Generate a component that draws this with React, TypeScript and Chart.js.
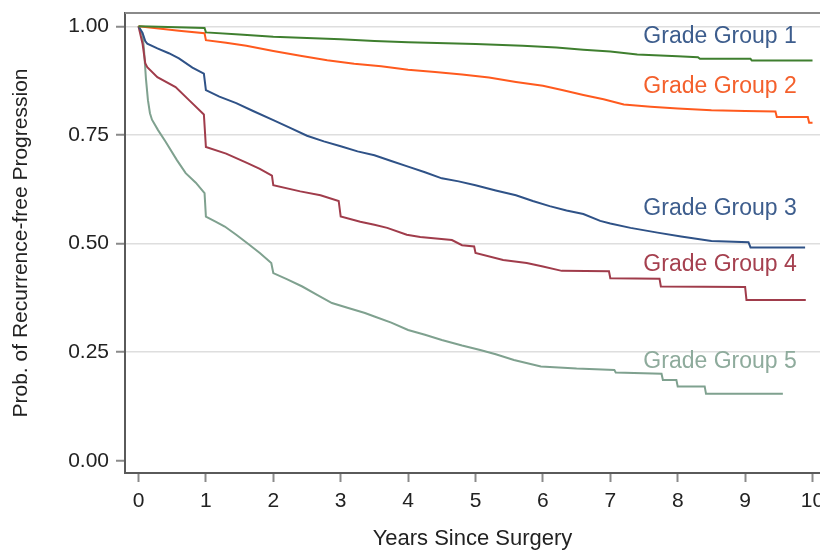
import React, { useEffect, useRef } from "react";
import { Chart, registerables } from "chart.js";

Chart.register(...registerables);

// ---- data (a repeated time marks a vertical drop) ----
const xTickValues = [0, 1, 2, 3, 4, 5, 6, 7, 8, 9, 10];
const yTickValues = [0, 0.25, 0.5, 0.75, 1];

const groupNames = ["Grade Group 1", "Grade Group 2", "Grade Group 3", "Grade Group 4", "Grade Group 5"];

const gg1Time = [0, 0.3, 0.98, 1.0, 1.5, 2.0, 2.5, 3.0, 3.5, 4.0, 5.0, 5.7, 6.2, 6.6, 7.0, 7.4, 8.0, 8.3, 8.33, 9.08, 9.1, 10.0];
const gg1Surv = [1, 0.999, 0.996, 0.986, 0.981, 0.976, 0.973, 0.97, 0.966, 0.963, 0.959, 0.955, 0.951, 0.946, 0.942, 0.935, 0.931, 0.929, 0.925, 0.925, 0.921, 0.921];

const gg2Time = [0, 0.3, 0.6, 0.98, 1.0, 1.3, 1.6, 2.0, 2.4, 2.8, 3.2, 3.6, 4.0, 4.4, 4.8, 5.2, 5.6, 6.0, 6.3, 6.6, 6.9, 7.2, 7.6, 8.0, 8.5, 9.0, 9.45, 9.47, 9.93, 9.95, 10.0];
const gg2Surv = [1, 0.995, 0.99, 0.984, 0.968, 0.962, 0.955, 0.943, 0.932, 0.922, 0.914, 0.908, 0.9, 0.895, 0.889, 0.882, 0.872, 0.863, 0.853, 0.842, 0.832, 0.82, 0.815, 0.811, 0.807, 0.805, 0.804, 0.791, 0.791, 0.778, 0.778];

const gg3Time = [0, 0.06, 0.1, 0.13, 0.28, 0.45, 0.6, 0.8, 0.97, 1.0, 1.2, 1.45, 1.7, 2.0, 2.25, 2.5, 2.75, 3.0, 3.25, 3.5, 3.75, 4.0, 4.25, 4.5, 4.75, 5.0, 5.3, 5.6, 5.85, 6.1, 6.35, 6.6, 6.85, 7.0, 7.3, 7.7, 8.05, 8.5, 9.05, 9.08, 9.89];
const gg3Surv = [1, 0.985, 0.966, 0.96, 0.949, 0.938, 0.926, 0.905, 0.891, 0.853, 0.838, 0.823, 0.805, 0.784, 0.766, 0.748, 0.735, 0.724, 0.712, 0.703, 0.69, 0.677, 0.664, 0.65, 0.643, 0.634, 0.622, 0.611, 0.598, 0.586, 0.576, 0.568, 0.552, 0.546, 0.536, 0.525, 0.516, 0.506, 0.503, 0.491, 0.491];

const gg4Time = [0, 0.06, 0.1, 0.13, 0.28, 0.55, 0.75, 0.97, 1.0, 1.3, 1.6, 1.8, 1.98, 2.0, 2.4, 2.7, 2.97, 3.0, 3.29, 3.5, 3.69, 3.98, 4.18, 4.65, 4.8, 4.98, 5.0, 5.41, 5.76, 6.0, 6.28, 6.98, 7.0, 7.73, 7.75, 9.0, 9.02, 9.9];
const gg4Surv = [1, 0.96, 0.915, 0.906, 0.883, 0.86, 0.83, 0.797, 0.722, 0.707, 0.686, 0.672, 0.656, 0.634, 0.62, 0.611, 0.598, 0.562, 0.55, 0.543, 0.536, 0.52, 0.515, 0.508, 0.496, 0.493, 0.478, 0.462, 0.455, 0.447, 0.437, 0.436, 0.42, 0.419, 0.401, 0.4, 0.37, 0.37];

const gg5Time = [0, 0.06, 0.08, 0.11, 0.14, 0.17, 0.2, 0.29, 0.4, 0.57, 0.7, 0.85, 0.98, 1.0, 1.15, 1.28, 1.45, 1.62, 1.8, 1.97, 2.0, 2.2, 2.43, 2.65, 2.87, 3.1, 3.36, 3.5, 3.75, 4.0, 4.25, 4.5, 4.8, 5.07, 5.3, 5.57, 5.97, 6.5, 7.06, 7.08, 7.76, 7.78, 7.98, 8.0, 8.4, 8.42, 9.56];
const gg5Surv = [1, 0.98, 0.95, 0.88, 0.83, 0.8, 0.785, 0.761, 0.735, 0.692, 0.662, 0.64, 0.616, 0.562, 0.55, 0.539, 0.52, 0.5, 0.478, 0.455, 0.432, 0.418, 0.401, 0.382, 0.363, 0.352, 0.34, 0.332, 0.318, 0.301, 0.29, 0.278, 0.265, 0.255, 0.245, 0.232, 0.217, 0.212, 0.209, 0.203, 0.2, 0.186, 0.186, 0.171, 0.171, 0.154, 0.154];

// label anchors in data units (left edge / baseline)
const labelTime = [7.49, 7.49, 7.49, 7.49, 7.49];
const labelSurv = [0.962, 0.847, 0.566, 0.437, 0.213];

// ---- styles ----
const lineColors = ["#3f7f2f", "#ff5a1e", "#2f5287", "#a03c4b", "#7fa18f"];
const labelColors = ["#3d5d8d", "#f4602c", "#3d5d8d", "#a5404f", "#8eab9c"];
const FONT = "'Liberation Sans', Arial, Helvetica, sans-serif";

const series = [
  [gg1Time, gg1Surv],
  [gg2Time, gg2Surv],
  [gg3Time, gg3Surv],
  [gg4Time, gg4Surv],
  [gg5Time, gg5Surv],
];

const framePlugin = {
  id: "frameTop",
  afterDraw(chart: any) {
    const { ctx, chartArea } = chart;
    ctx.save();
    ctx.strokeStyle = "#8a8a8a";
    ctx.lineWidth = 2;
    ctx.beginPath();
    ctx.moveTo(chartArea.left, chartArea.top);
    ctx.lineTo(chartArea.right, chartArea.top);
    ctx.stroke();
    ctx.restore();
  },
};

const labelPlugin = {
  id: "groupLabels",
  afterDatasetsDraw(chart: any) {
    const { ctx, scales } = chart;
    ctx.save();
    ctx.font = `23px ${FONT}`;
    ctx.textAlign = "left";
    ctx.textBaseline = "alphabetic";
    groupNames.forEach((name, i) => {
      ctx.fillStyle = labelColors[i];
      ctx.fillText(name, scales.x.getPixelForValue(labelTime[i]), scales.y.getPixelForValue(labelSurv[i]));
    });
    ctx.restore();
  },
};

export default function App() {
  const ref = useRef<HTMLCanvasElement | null>(null);

  useEffect(() => {
    if (!ref.current) return;
    const chart = new Chart(ref.current, {
      type: "line",
      data: {
        datasets: series.map(([t, s], i) => ({
          label: groupNames[i],
          data: t.map((x, j) => ({ x, y: s[j] })),
          borderColor: lineColors[i],
          borderWidth: 2,
          pointRadius: 0,
          tension: 0,
          fill: false,
        })),
      },
      options: {
        animation: false,
        responsive: false,
        events: [],
        layout: { padding: { top: 13, left: 0, right: 0, bottom: 0 } },
        plugins: { legend: { display: false }, tooltip: { enabled: false } },
        scales: {
          x: {
            type: "linear",
            min: -0.2003,
            max: 10.111,
            afterBuildTicks: (scale: any) => {
              scale.ticks = xTickValues.map((v) => ({ value: v }));
            },
            afterFit: (scale: any) => {
              scale.height = 79;
              scale.paddingLeft = 0;
              scale.paddingRight = 0;
            },
            grid: {
              drawOnChartArea: false,
              drawTicks: true,
              tickLength: 9,
              tickColor: "#8a8a8a",
              tickWidth: 2,
              color: "transparent",
            },
            border: { display: true, color: "#5a5a5a", width: 2 },
            ticks: {
              autoSkip: false,
              maxRotation: 0,
              padding: 7,
              color: "#222",
              font: { family: FONT, size: 21 },
              callback: (v: any) => String(v),
            },
            title: {
              display: true,
              text: "Years Since Surgery",
              color: "#222",
              font: { family: FONT, size: 22 },
              padding: { top: 0, bottom: 0 },
            },
          },
          y: {
            type: "linear",
            min: -0.0283,
            max: 1.0306,
            afterBuildTicks: (scale: any) => {
              scale.ticks = yTickValues.map((v) => ({ value: v }));
            },
            afterFit: (scale: any) => {
              scale.width = 125;
              scale.paddingTop = 0;
              scale.paddingBottom = 0;
            },
            grid: {
              drawTicks: true,
              tickLength: 9,
              tickColor: "#8a8a8a",
              tickWidth: 2,
              lineWidth: 1.5,
              color: (c: any) => (c.tick && c.tick.value === 0 ? "transparent" : "#dedede"),
            },
            border: { display: true, color: "#5a5a5a", width: 2 },
            ticks: {
              padding: 7,
              color: "#222",
              font: { family: FONT, size: 21 },
              callback: (v: any) => Number(v).toFixed(2),
            },
            title: {
              display: true,
              text: "Prob. of Recurrence-free Progression",
              color: "#222",
              font: { family: FONT, size: 21 },
              padding: { top: 9, bottom: 0 },
            },
          },
        },
      },
      plugins: [framePlugin, labelPlugin],
    } as any);
    return () => chart.destroy();
  }, []);

  return (
    <div style={{ position: "fixed", left: 0, top: 0, width: 820, height: 552, overflow: "hidden", background: "#fff" }}>
      <canvas ref={ref} width={820} height={552} style={{ display: "block", width: 820, height: 552 }} />
    </div>
  );
}
